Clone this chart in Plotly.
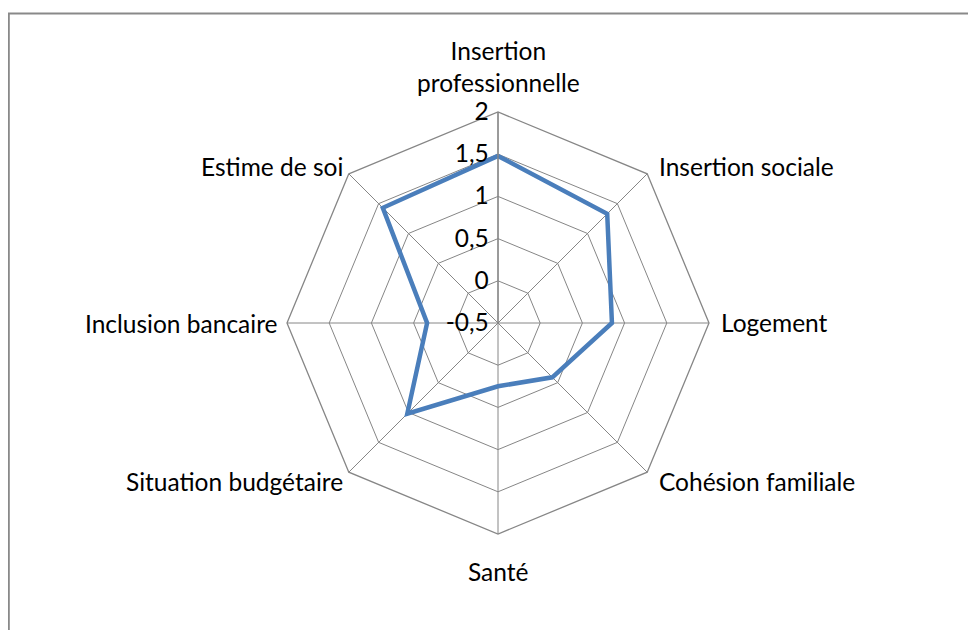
import math
import plotly.graph_objects as go

categories = ["Insertion<br>professionnelle", "Insertion sociale", "Logement",
              "Cohésion familiale", "Santé", "Situation budgétaire",
              "Inclusion bancaire", "Estime de soi"]
values = [1.48, 1.33, 0.85, 0.41, 0.25, 1.02, 0.34, 1.43]
tick_vals = [-0.5, 0, 0.5, 1, 1.5, 2]
tick_text = ["-0,5", "0", "0,5", "1", "1,5", "2"]

# page body has an 8px margin; figure drawn at offset (8, 8)
OFF = 8
W, H = 976 - OFF, 630 - OFF
cx, cy, R = 498 - OFF, 323 - OFF, 211

fig = go.Figure()
fig.add_trace(go.Scatterpolar(
    r=values + values[:1],
    theta=categories + categories[:1],
    mode="lines",
    line=dict(color="#4A7EBB", width=4.5),
    hoverinfo="skip",
))

font = dict(family="Lato, Calibri, Carlito, sans-serif", size=24.5, color="#000000")

# category labels placed just outside each octagon vertex
annotations = []
n = len(categories)
for i, name in enumerate(categories):
    a = 2 * math.pi * i / n
    s, c = math.sin(a), math.cos(a)
    px, py = cx + R * s, cy - R * c
    if abs(s) < 1e-6:
        xanchor = "center"
        xshift = 0
        if c > 0:
            yanchor, yshift = "bottom", 13
        else:
            yanchor, yshift = "top", -21
    else:
        xanchor = "left" if s > 0 else "right"
        xshift = 9.5 if s > 0 else -4
        yanchor = "middle"
        yshift = 7 if c > 1e-6 else (-9 if c < -1e-6 else 0)
        if s < 0 and abs(c) < 1e-6:
            xshift = -8
    annotations.append(dict(
        text=name, x=px / W, y=(H - py) / H, xref="paper", yref="paper",
        xanchor=xanchor, yanchor=yanchor, xshift=xshift, yshift=yshift,
        showarrow=False, font=font, align="center",
    ))

fig.update_layout(
    width=W, height=H,
    margin=dict(l=0, r=0, t=0, b=0),
    paper_bgcolor="white",
    showlegend=False,
    font=font,
    annotations=annotations,
    polar=dict(
        domain=dict(x=[(cx - R) / W, (cx + R) / W], y=[(H - cy - R) / H, (H - cy + R) / H]),
        bgcolor="white",
        gridshape="linear",
        radialaxis=dict(
            range=[-0.5, 2], tickvals=tick_vals, ticktext=tick_text,
            angle=90, tickangle=90, side="counterclockwise",
            showline=True, linecolor="#868686", linewidth=1.3,
            gridcolor="#868686", gridwidth=1.3, ticks="", tickfont=font,
        ),
        angularaxis=dict(
            rotation=90, direction="clockwise", showticklabels=False,
            showline=True, linecolor="#868686", linewidth=1.3,
            gridcolor="#868686", gridwidth=1.3, ticks="",
        ),
    ),
    shapes=[
        dict(type="line", xref="paper", yref="paper", x0=0.8 / W, x1=0.8 / W, y0=0, y1=(H - 5) / H,
             line=dict(color="#898989", width=2)),
        dict(type="line", xref="paper", yref="paper", x0=0, x1=1, y0=(H - 5.5) / H, y1=(H - 5.5) / H,
             line=dict(color="#898989", width=2)),
    ],
)
fig.write_html("out.html")
